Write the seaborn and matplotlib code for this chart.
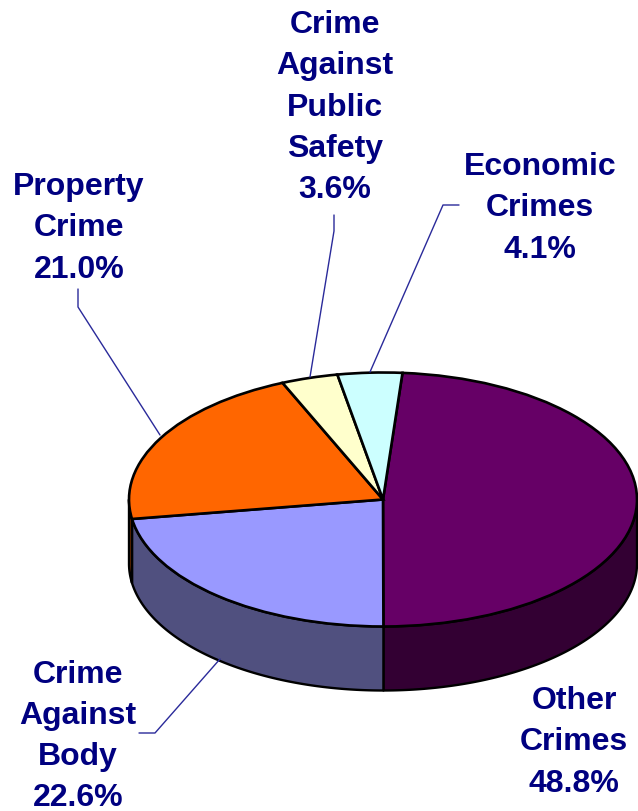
import numpy as np
import matplotlib
matplotlib.use('Agg')
import matplotlib.pyplot as plt
import seaborn as sns

# Crime categories, clockwise from the top of the pie
categories = ['Other\nCrimes', 'Crime\nAgainst\nBody', 'Property\nCrime',
              'Crime\nAgainst\nPublic\nSafety', 'Economic\nCrimes']
shares = [48.8, 22.6, 21.0, 3.6, 4.1]
top_colors = ['#660066', '#9999ff', '#ff6600', '#ffffcc', '#ccffff']
side_colors = ['#330033', '#50507f', '#7f3300', '#7f7f66', '#667f7f']

sns.set_theme(style='white')
plt.rcParams['font.family'] = ['Liberation Sans', 'DejaVu Sans']

W, H = 638, 812
CX, CY, RX, RY = 383, 500.5, 254, 127
DEPTH = 64 / RY
START = 4.4  # degrees clockwise from 12 o'clock


# pixel position in the picture -> squashed pie units
def px(x, y):
    return (x - CX) / RX, (CY - y) / RY


fig = plt.figure(figsize=(W / 100, H / 100), dpi=100)
ax = fig.add_axes([0, 0, 1, 1])

# Side wall of the disc, only the front half is visible
edges = START + np.cumsum([0] + shares) * 360 / sum(shares)
for i, col in enumerate(side_colors):
    a0, a1 = max(edges[i], 90), min(edges[i + 1], 270)
    if a1 <= a0:
        continue
    t = np.radians(np.linspace(a0, a1, 120))
    xs, ys = np.sin(t), np.cos(t)
    ax.fill(np.r_[xs, xs[::-1]], np.r_[ys, ys[::-1] - DEPTH], facecolor=col,
            edgecolor='black', linewidth=1.7, joinstyle='round', zorder=1)

# Top of the disc
wedges, _ = ax.pie(shares, colors=top_colors, startangle=90 - START, counterclock=False,
                   radius=1, center=(0, 0),
                   wedgeprops=dict(edgecolor='black', linewidth=1.9, zorder=2))
for w in wedges:
    w.set_clip_on(False)

ax.set_aspect('auto')
ax.set_xlim(px(0, 0)[0], px(W, 0)[0])
ax.set_ylim(px(0, H)[1], px(0, 0)[1])
ax.axis('off')

# Leader lines
leaders = [[(220, 660), (155, 734), (139, 734)],
           [(160, 436), (78, 308), (78, 290)],
           [(310, 378), (334, 232), (334, 216)],
           [(370, 373), (443, 206), (459, 206)]]
for pts in leaders:
    p = [px(*q) for q in pts]
    ax.plot([q[0] for q in p], [q[1] for q in p], color='#2a2a9a', linewidth=1.0, zorder=3)

# Labels, centred on the text block
label_pos = [(574, 742.5), (78, 736.5), (79, 228.5), (335, 107.5), (540, 208.5)]
for name, val, (x, y) in zip(categories, shares, label_pos):
    lx, ly = px(x, y)
    ax.text(lx, ly, f'{name}\n{val:.1f}%', ha='center', va='center', color='#000080',
            fontsize=23, fontweight='bold', linespacing=1.48, zorder=4)

fig.savefig('out.png', dpi=100)
